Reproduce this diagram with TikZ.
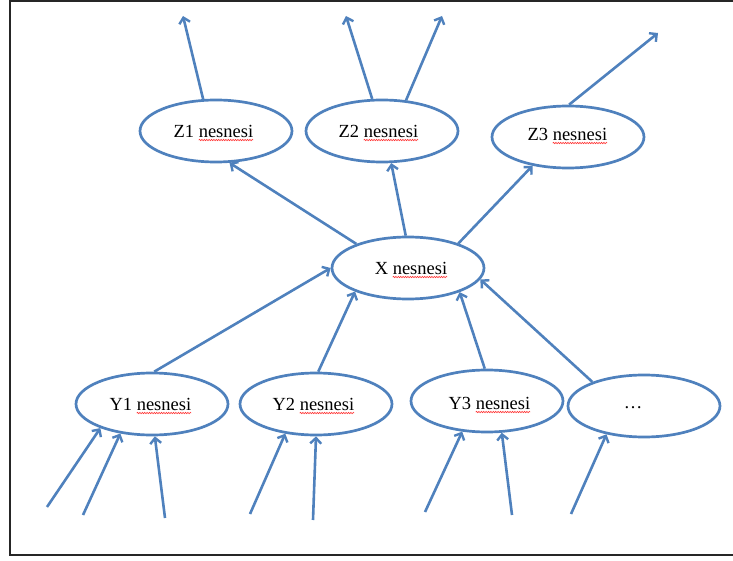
\documentclass[tikz,border=0pt]{standalone}
\usepackage{fontspec}
\setmainfont{Liberation Serif}
\usetikzlibrary{shapes.geometric,arrows.meta,decorations.pathmorphing}
\definecolor{obblue}{HTML}{4F81BD}
\newcommand{\lblfont}{\fontsize{18.5}{20}\selectfont}
\tikzset{
  obj/.style={ellipse, draw=obblue, line width=2.7pt, fill=white, minimum width=152pt, minimum height=62pt, inner sep=0pt},
  lbl/.style={inner sep=0pt, outer sep=0pt, font=\lblfont},
  pre/.style={lbl, anchor=base east, xshift=-4.6pt},
  conn/.style={draw=obblue, line width=2.6pt, -{Straight Barb[length=5.5pt,width=11pt,line width=2.4pt]}},
  frame/.style={draw=black!85, line width=2.5pt},
  squig/.style={draw=red!80, line width=0.6pt, decorate, decoration={snake, amplitude=0.7pt, segment length=2.4pt}}
}
\begin{document}
\begin{tikzpicture}[x=1pt,y=-1pt]
\useasboundingbox (0,0) rectangle (733,561);
\draw[frame] (740,1) -- (10,1) -- (10,555) -- (740,555);
% ellipses
\node[obj] (z1) at (216,131) {};
\node[obj] (z2) at (382,131) {};
\node[obj] (z3) at (568,137) {};
\node[obj] (x)  at (408,268) {};
\node[obj] (y1) at (152,404) {};
\node[obj] (y2) at (316,404) {};
\node[obj] (y3) at (487,401) {};
\node[obj] (y4) at (644,406) {};
% labels: word "nesnesi" with its prefix
\node[lbl] (z1w) at (226,131) {nesnesi};
\node[pre] (z1p) at (z1w.base west) {Z1};
\node[lbl] (z2w) at (391,131) {nesnesi};
\node[pre] (z2p) at (z2w.base west) {Z2};
\node[lbl] (z3w) at (580,134) {nesnesi};
\node[pre] (z3p) at (z3w.base west) {Z3};
\node[lbl] (xw) at (420,268) {nesnesi};
\node[pre] (xp) at (xw.base west) {X};
\node[lbl] (y1w) at (164,404) {nesnesi};
\node[pre] (y1p) at (y1w.base west) {Y1};
\node[lbl] (y2w) at (327,404) {nesnesi};
\node[pre] (y2p) at (y2w.base west) {Y2};
\node[lbl] (y3w) at (503,403) {nesnesi};
\node[pre] (y3p) at (y3w.base west) {Y3};
\node[lbl] (y4t) at (633,408) {…};
% spelling marks
\foreach \t in {z1w,z2w,z3w,xw,y1w,y2w,y3w}{
  \draw[squig] ([yshift=-3pt]\t.base west) -- ([yshift=-3pt]\t.base east);
}
% free ends
\coordinate (z1o) at (183,16);
\coordinate (z2oa) at (346,16);
\coordinate (z2ob) at (442,16);
\coordinate (z3o) at (658,33);
\coordinate (i1) at (47,507);
\coordinate (i2) at (83,515);
\coordinate (i3) at (165,518);
\coordinate (i4) at (250,514);
\coordinate (i5) at (313,520);
\coordinate (i6) at (425,512);
\coordinate (i7) at (512,515);
\coordinate (i8) at (571,514);
% connectors
\draw[conn] (z1.112) -- (z1o);
\draw[conn] (z2.107) -- (z2oa);
\draw[conn] (z2.52) -- (z2ob);
\draw[conn] (z3.88) -- (z3o);
\draw[conn] (x.155) -- (z1.-67);
\draw[conn] (x.94) -- (z2.-74);
\draw[conn] (x.26) -- (z3.-141);
\draw[conn] (y1.86) -- (x.180);
\draw[conn] (y2.86) -- (x.204);
\draw[conn] (y3.94) -- (x.-25);
\draw[conn] (y4.155) -- (x.-9);
\draw[conn] (i1) -- (y1.-155);
\draw[conn] (i2) -- (y1.-137);
\draw[conn] (i3) -- (y1.-85);
\draw[conn] (i4) -- (y2.-136);
\draw[conn] (i5) -- (y2.-90);
\draw[conn] (i6) -- (y3.-129);
\draw[conn] (i7) -- (y3.-65);
\draw[conn] (i8) -- (y4.-143);
\end{tikzpicture}
\end{document}
